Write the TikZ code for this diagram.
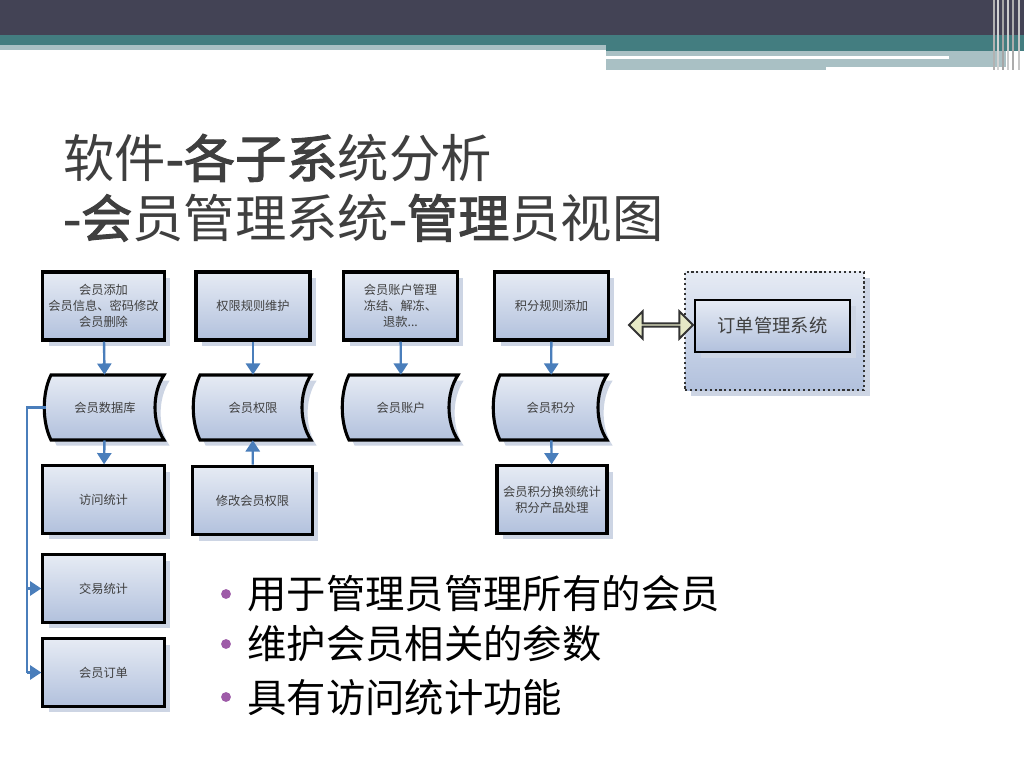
\documentclass[tikz,border=0pt]{standalone}
\usepackage{fontspec}
\setmainfont{Noto Sans CJK SC}
\newfontfamily\heavy{Noto Sans CJK SC}[FakeBold=2.2]
\usetikzlibrary{arrows.meta, shapes.arrows, shadows}

\definecolor{bandgray}{HTML}{434355}
\definecolor{bandteal}{HTML}{437D80}
\definecolor{bandlight}{HTML}{A9C0C4}
\definecolor{titlegray}{HTML}{3F3F3F}
\definecolor{flowblue}{HTML}{4A7EBB}
\definecolor{boxtop}{HTML}{E6EBF4}
\definecolor{boxbottom}{HTML}{B2C1DD}
\definecolor{shade}{HTML}{CDD5E4}
\definecolor{bulletpurple}{HTML}{9E5BA8}
\definecolor{linkfill}{HTML}{E6E9C6}

\begin{document}
\begin{tikzpicture}[x=0.025cm, y=-0.025cm,
    box/.style={draw=black, line width=2.2pt, top color=boxtop, bottom color=boxbottom,
      drop shadow={fill=shade, opacity=1, shadow xshift=4pt, shadow yshift=-4pt},
      text=titlegray, font=\fontsize{8.7}{11.5}\selectfont, align=center, inner sep=0pt},
    label/.style={text=titlegray, font=\fontsize{8.7}{11.5}\selectfont, inner sep=0pt},
    flow/.style={flowblue, line width=1.7pt, -{Triangle[length=8pt, width=10pt]}},
    bus/.style={flowblue, line width=1.7pt},
    title/.style={anchor=west, text=titlegray, font=\fontsize{36.5}{42}\selectfont, inner sep=0pt},
    bullet/.style={circle, fill=bulletpurple, inner sep=0pt, minimum size=7pt},
    point/.style={anchor=west, font=\fontsize{28}{30}\selectfont, inner sep=0pt}]

    \useasboundingbox (0,0) rectangle (1024,768);
    \fill[white] (0,0) rectangle (1024,768);

    % banner
    \fill[bandgray] (0,0) rectangle (1024,35);
    \fill[bandteal] (0,35) rectangle (606,45);
    \fill[bandteal] (606,35) rectangle (1024,51);
    \fill[bandlight] (0,45) rectangle (606,50);
    \fill[bandlight] (606,51) rectangle (1006,56);
    \fill[bandlight] (949,56) rectangle (1006,67);
    \fill[bandlight] (606,59) rectangle (826,70);
    \fill[bandlight] (826,59) rectangle (949,67);
    \foreach \x/\c in {994/gray!60, 998/gray!35, 1003/gray!70, 1008/gray!40, 1013/gray!65, 1019/gray!45} {
      \draw[\c, line width=1.2pt] (\x,0) -- (\x,70);
    }

    % title
    \node[title] (title1) at (63,158) {软件{\heavy -各子系}统分析};
    \node[title] (title2) at (63,218) {{\heavy -会}员管理系统{\heavy -管理}员视图};

    % top row
    \node[box, minimum width=3.03cm, minimum height=1.7cm] (addmember) at (103.5,306) {会员添加\\会员信息、密码修改\\会员删除};
    \node[box, minimum width=2.85cm, minimum height=1.7cm] (rules) at (253,306) {权限规则维护};
    \node[box, minimum width=2.83cm, minimum height=1.7cm] (accmanage) at (400.5,306) {会员账户管理\\冻结、解冻、\\退款...};
    \node[box, minimum width=2.83cm, minimum height=1.7cm] (addpoints) at (551.5,306) {积分规则添加};

    % stored data
    \foreach \cx/\hw/\name/\txt in {105/59/memberdb/会员数据库, 253/58/rights/会员权限, 401/57/account/会员账户, 551/56/points/会员积分} {
      \path[box] ({\cx-\hw+5},375) .. controls ({\cx-\hw-4},393) and ({\cx-\hw-4},422) .. ({\cx-\hw+5},440)
        -- ({\cx+\hw},440) .. controls ({\cx+\hw-12},422) and ({\cx+\hw-12},393) .. ({\cx+\hw},375) -- cycle;
      \node[label, minimum width={2*\hw*0.025cm}, minimum height=1.625cm] (\name) at (\cx,407.5) {\txt};
    }

    % lower rows
    \node[box, minimum width=3.03cm, minimum height=1.68cm] (visits) at (103.5,499.5) {访问统计};
    \node[box, minimum width=2.98cm, minimum height=1.72cm] (editrights) at (252.5,500.5) {修改会员权限};
    \node[box, minimum width=2.75cm, minimum height=1.68cm] (exchange) at (552,499.5) {会员积分换领统计\\积分产品处理};
    \node[box, minimum width=3.03cm, minimum height=1.68cm] (trades) at (103.5,588.5) {交易统计};
    \node[box, minimum width=3.03cm, minimum height=1.68cm] (orders) at (103.5,672.5) {会员订单};

    % order system
    \node[top color=boxtop, bottom color=boxbottom, draw=black!80, dotted, line width=1.5pt,
      drop shadow={fill=shade, opacity=1, shadow xshift=4pt, shadow yshift=-4pt},
      minimum width=4.475cm, minimum height=2.95cm] (orderzone) at (774.5,331) {};
    \node[box, line width=1.5pt, minimum width=3.875cm, minimum height=1.3cm,
      font=\fontsize{13}{15}\selectfont] (ordersys) at (772.5,326) {订单管理系统};
    \node[double arrow, draw=black!80, fill=linkfill, line width=1.4pt, minimum height=1.6cm,
      minimum width=0.68cm, double arrow head extend=0.17cm, inner sep=0pt] (link) at (661,325) {};

    % connectors
    \draw[flow] (addmember) -- (memberdb);
    \draw[flow] (rules) -- (rights);
    \draw[flow] (accmanage) -- (account);
    \draw[flow] (addpoints) -- (points);
    \draw[flow] (memberdb) -- (visits);
    \draw[flow] (editrights) -- (rights);
    \draw[flow] (points) -- (exchange);
    \coordinate (busturn) at (27,407.5);
    \draw[bus] (memberdb.west) -- (busturn) -- (busturn |- orders.west);
    \draw[flow] (busturn |- trades.west) -- (trades.west);
    \draw[flow] (busturn |- orders.west) -- (orders.west);

    % bullets
    \foreach \y/\txt [count=\i] in {594/用于管理员管理所有的会员, 644/维护会员相关的参数, 697/具有访问统计功能} {
      \node[bullet] (dot\i) at (226,\y) {};
      \node[point] (item\i) at (247,\y) {\txt};
    }
  \end{tikzpicture}
\end{document}
